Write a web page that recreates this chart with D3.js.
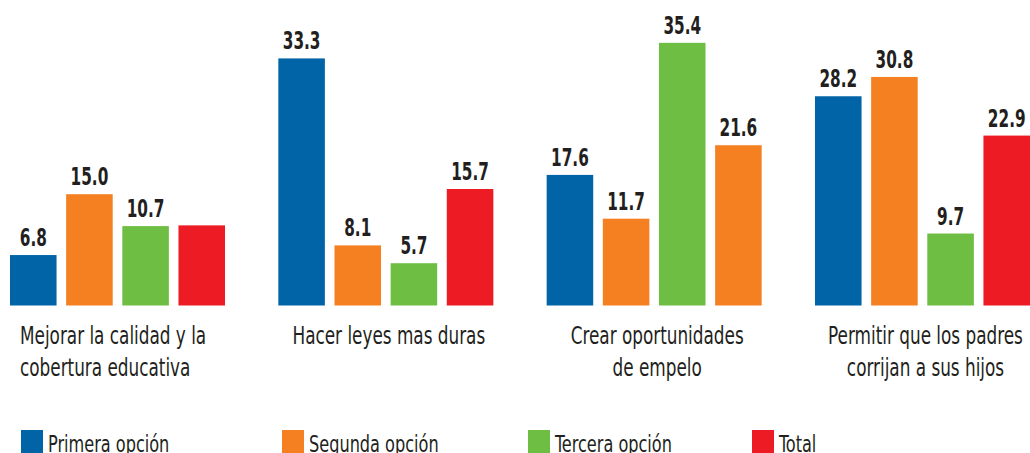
<!DOCTYPE html>
<html>
<head>
<meta charset="utf-8">
<script src="https://cdn.jsdelivr.net/npm/d3@7"></script>
<style>
  html, body { margin: 0; padding: 0; background: #fff; }
  svg { display: block; }
  text { font-family: "DejaVu Sans Condensed", "Liberation Sans Narrow", sans-serif; fill: #231f20; }
</style>
</head>
<body>
<svg id="chart" width="1030" height="453"></svg>
<script>
// ---- data ----
const categories = [
  "Mejorar la calidad y la cobertura educativa",
  "Hacer leyes mas duras",
  "Crear oportunidades de empelo",
  "Permitir que los padres corrijan a sus hijos"
];
const categoryLines = [
  ["Mejorar la calidad y la", "cobertura educativa"],
  ["Hacer leyes mas duras"],
  ["Crear oportunidades", "de empelo"],
  ["Permitir que los padres", "corrijan a sus hijos"]
];
const seriesNames = ["Primera opción", "Segunda opción", "Tercera opción", "Total"];
const primera = [6.8, 33.3, 17.6, 28.2];
const segunda = [15.0, 8.1, 11.7, 30.8];
const tercera = [10.7, 5.7, 35.4, 9.7];
const total   = [10.8, 15.7, 21.6, 22.9];
const unlabeled = ["Mejorar la calidad y la cobertura educativa|Total"];

// ---- style ----
const colors = { "Primera opción": "#0064a7", "Segunda opción": "#f58022", "Tercera opción": "#6fbe44", "Total": "#ed1c24" };
const colorOverride = { "Crear oportunidades de empelo|Total": "#f58022" };

const seriesValues = [primera, segunda, tercera, total];
const rows = [];
categories.forEach((c, i) => seriesNames.forEach((s, j) => rows.push({ cat: c, ser: s, val: seriesValues[j][i] })));

const svg = d3.select("#chart");

const x0 = d3.scaleBand().domain(categories).range([10, 1030]).paddingInner(0.1987).paddingOuter(0);
const x1 = d3.scaleBand().domain(seriesNames).range([0, x0.bandwidth()]).paddingInner(0.171).paddingOuter(0);
const y = d3.scaleLinear().domain([0, 40]).range([305.5, 8.7]);

const g = svg.append("g");

g.selectAll("rect.bar").data(rows).join("rect")
  .attr("class", "bar")
  .attr("x", d => x0(d.cat) + x1(d.ser))
  .attr("width", x1.bandwidth())
  .attr("y", d => y(d.val))
  .attr("height", d => y(0) - y(d.val))
  .attr("fill", d => colorOverride[d.cat + "|" + d.ser] || colors[d.ser]);

g.selectAll("text.val").data(rows.filter(d => !unlabeled.includes(d.cat + "|" + d.ser))).join("text")
  .attr("class", "val")
  .attr("transform", d => `translate(${x0(d.cat) + x1(d.ser) + x1.bandwidth() / 2},${y(d.val) - 9}) scale(0.68,1)`)
  .attr("text-anchor", "middle")
  .style("font-size", "25px")
  .style("font-weight", "bold")
  .text(d => d3.format(".1f")(d.val));

// category labels
categories.forEach((c, i) => {
  const left = i === 0;
  const cx = left ? x0(c) + 10 : x0(c) + x0.bandwidth() / 2 + 3;
  categoryLines[i].forEach((line, k) => {
    g.append("text")
      .attr("transform", `translate(${cx},${344 + k * 32}) scale(0.75,1)`)
      .attr("text-anchor", left ? "start" : "middle")
      .style("font-size", "25px")
      .text(line);
  });
});

// legend
const legendX = [21, 282, 528, 752];
const lg = svg.append("g");
seriesNames.forEach((s, i) => {
  lg.append("rect").attr("x", legendX[i]).attr("y", 430).attr("width", 22).attr("height", 23).attr("fill", colors[s]);
  lg.append("text")
    .attr("transform", `translate(${legendX[i] + 27},${452}) scale(0.78,1)`)
    .style("font-size", "23px")
    .text(s);
});
</script>
</body>
</html>
